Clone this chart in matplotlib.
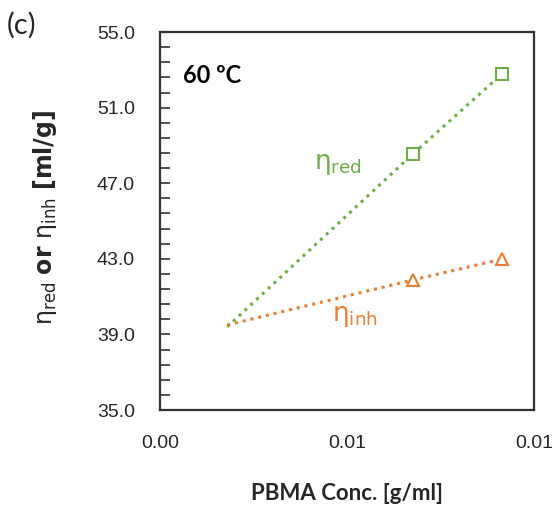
#!/usr/bin/env python3
"""Reduced / inherent viscosity vs PBMA concentration at 60 C (panel c)."""
import numpy as np
import matplotlib; matplotlib.use("Agg")
import matplotlib.pyplot as plt
from matplotlib.ticker import FormatStrFormatter

plt.rcParams["mathtext.default"] = "regular"

# data (first point = trend line start, no marker)
conc = [0.0018, 0.00676, 0.00914]          # g/ml
eta_red = [39.40, 48.55, 52.78]            # ml/g
eta_inh = [39.50, 41.88, 42.99]            # ml/g
x_ticks = [0, 0.005, 0.01]
y_ticks = [35, 39, 43, 47, 51, 55]

GREEN = "#70AD47"
ORANGE = "#ED7D31"
TXT = "#262626"

fig = plt.figure(figsize=(5.57, 5.14), dpi=100)
ax = fig.add_axes([0.287, 0.2023, 0.672, 0.7354])

ax.plot(conc, eta_red, ls=(0, (1, 1.6)), lw=2.2, color=GREEN,
        marker="s", markevery=[1, 2], ms=8.5, mfc="white", mec=GREEN, mew=1.5)
ax.plot(conc, eta_inh, ls=(0, (1, 1.6)), lw=2.2, color=ORANGE,
        marker="^", markevery=[1, 2], ms=8, mfc="white", mec=ORANGE, mew=1.5)

ax.set_xlim(0, 0.01); ax.set_ylim(35, 55)
ax.set_xticks(x_ticks)
ax.xaxis.set_major_formatter(FormatStrFormatter("%.2f"))
ax.set_yticks(y_ticks)
ax.set_yticks(np.arange(35, 55.01, 0.8), minor=True)
ax.yaxis.set_major_formatter(FormatStrFormatter("%.1f"))
ax.tick_params(axis="y", which="both", direction="in", length=7, width=1.2,
               color="#333333", pad=18, labelsize=14, labelcolor=TXT)
ax.tick_params(axis="x", length=0, pad=18, labelsize=14, labelcolor=TXT)
for lab in ax.get_xticklabels() + ax.get_yticklabels():
    lab.set_fontfamily("Liberation Sans")
for s in ax.spines.values():
    s.set_linewidth(1.6); s.set_color("#333333")

ax.text(0.062, 0.885, "60 ºC", transform=ax.transAxes, fontsize=17,
        fontweight="bold", family="Lato", color="black", va="center")
ax.text(0.00475, 48.0, r"$\eta_{red}$", color=GREEN, fontsize=19,
        ha="center", va="center")
ax.text(0.0052, 40.0, r"$\eta_{inh}$", color=ORANGE, fontsize=19,
        ha="center", va="center")

ax.set_xlabel("PBMA Conc. [g/ml]", fontsize=16, fontweight="bold",
              family="Lato", color=TXT, va="center")
ax.xaxis.set_label_coords(0.5, -0.22)
ax.set_ylabel(r"$\eta_{red}$ $\mathbf{or}$ $\eta_{inh}$ $\mathbf{[ml/g]}$",
              fontsize=17, color=TXT, va="center")
ax.yaxis.set_label_coords(-0.308, 0.51)

fig.text(0.012, 0.935, "(c)", fontsize=21, family="Lato", color=TXT)

plt.savefig("out.png", dpi=100)
